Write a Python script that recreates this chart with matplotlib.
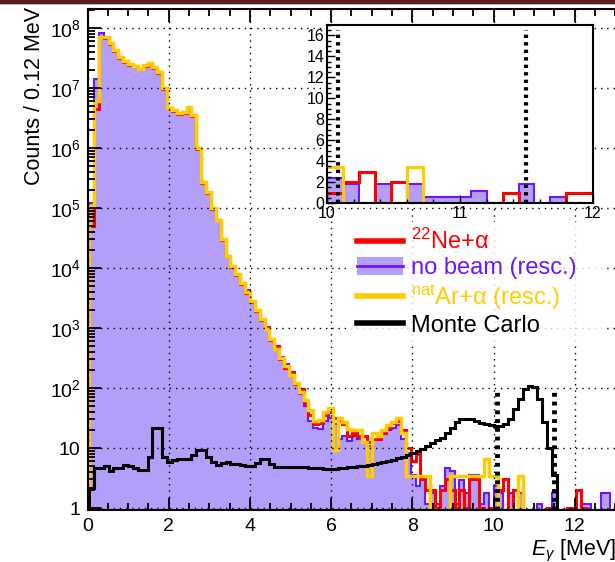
import numpy as np
import matplotlib
matplotlib.use('Agg')
import matplotlib.pyplot as plt
from matplotlib.lines import Line2D
from matplotlib.patches import Patch, Rectangle
from matplotlib.legend_handler import HandlerTuple
from matplotlib.ticker import (MultipleLocator, FixedLocator, LogLocator,
                               NullFormatter, FuncFormatter)

plt.rcParams['font.family'] = ['Liberation Sans', 'DejaVu Sans']
plt.rcParams['mathtext.fontset'] = 'custom'
plt.rcParams['mathtext.rm'] = 'Liberation Sans'
plt.rcParams['mathtext.it'] = 'Liberation Sans:italic'
plt.rcParams['mathtext.bf'] = 'Liberation Sans:bold'

# gamma spectra, 0.12 MeV bins starting at first_edge
bin_width = 0.12
first_edge = 0.04

ne_alpha = [
    5.0e4, 4.5e6, 7.0e7, 6.9e7, 5.5e7, 4.2e7, 3.2e7, 2.75e7, 2.45e7, 2.3e7,
    2.05e7, 2.35e7, 2.55e7, 2.15e7, 1.8e7, 9.8e6, 4.6e6, 4.2e6, 3.7e6, 3.9e6,
    4.7e6, 3.4e6, 9.8e5, 2.65e5, 1.8e5, 9.8e4, 6.2e4, 2.95e4, 1.6e4, 1.05e4,
    7700, 5500, 3900, 2750, 1950, 1350, 1050, 640, 500, 310,
    220, 185, 115, 95, 56, 35, 25, 26, 35, 40,
    32, 28, 25, 16, 18, 16, 16, 12.6, 14, 14,
    18, 22, 26, 28, 20, 10, 6, 8, 3, 2,
    2, 1, 2, 3, 2, 0, 2, 1, 3, 3,
    1, 0, 1, 1, 2, 3, 0, 2, 0, 0,
    0, 0, 0, 0, 1, 0, 0, 0, 1, 1,
    2, 1,
]

no_beam = [
    1.2e5, 1.4e7, 8.3e7, 7.2e7, 5.5e7, 4.2e7, 3.3e7, 2.75e7, 2.45e7, 2.3e7,
    2.05e7, 2.35e7, 2.55e7, 2.15e7, 1.8e7, 9.8e6, 4.6e6, 4.2e6, 3.7e6, 3.9e6,
    4.7e6, 3.4e6, 9.8e5, 2.65e5, 1.8e5, 9.8e4, 6.2e4, 2.95e4, 1.6e4, 1.05e4,
    7700, 5500, 4300, 2750, 1950, 1350, 1000, 640, 430, 330,
    250, 160, 115, 80, 50, 28, 22, 21, 28, 32,
    25, 14, 16, 13, 16, 14, 12.5, 11, 14, 16,
    19, 20, 22, 24, 14, 8.3, 3.54, 2.36, 2.95, 1.18,
    1.77, 1.18, 2.36, 4.72, 4.13, 1.18, 2.95, 1.77, 3.54, 3.54,
    1.18, 1.77, 0.59, 2.36, 1.77, 0, 1.77, 0, 1.77, 0.59,
    0.59, 0.59, 1.18, 0, 0, 1.77, 0, 0.59, 0, 0,
    0, 1.18, 1.18, 0, 0, 1.77, 1.77, 0.59,
]

ar_alpha = [
    1.1e5, 6.0e6, 7.0e7, 7.0e7, 5.6e7, 4.3e7, 3.3e7, 2.8e7, 2.5e7, 2.35e7,
    2.1e7, 2.4e7, 2.6e7, 2.2e7, 1.85e7, 1.0e7, 4.7e6, 4.3e6, 3.8e6, 4.0e6,
    4.8e6, 3.5e6, 1.0e6, 2.7e5, 1.85e5, 1.0e5, 6.3e4, 3.0e4, 1.6e4, 1.07e4,
    7900, 5600, 4000, 2800, 2000, 1400, 950, 660, 450, 320,
    230, 165, 120, 85, 63, 43, 28, 29, 40, 47,
    9.3, 32, 27, 21, 20, 20, 12.5, 3.4, 18, 16,
    20, 24, 27, 32, 18, 3.4, 3.4, 3.4, 3.4, 3.4,
    0, 0, 0, 0, 3.4, 3.4, 3.4, 3.4, 3.4, 3.4,
    3.4, 6.7, 3.4, 3.4, 0, 0, 0, 0, 3.4,
]

monte_carlo = [
    2.2, 4.6, 4.6, 5.0, 4.1, 4.6, 4.7, 5.2, 5.0, 4.6,
    4.3, 4.3, 7.0, 22, 22, 7.0, 5.8, 6.4, 6.6, 6.6,
    6.6, 7.6, 9.3, 9.3, 7.0, 5.8, 5.2, 5.6, 5.8, 5.5,
    5.5, 5.2, 5.0, 5.0, 5.6, 6.5, 6.5, 5.5, 4.9, 4.8,
    4.8, 4.8, 4.8, 4.8, 4.8, 4.7, 4.6, 4.6, 4.5, 4.5,
    4.5, 4.6, 4.7, 4.8, 4.9, 5.0, 5.1, 5.2, 5.4, 5.6,
    5.8, 6.1, 6.4, 6.8, 7.2, 7.7, 8.3, 9.0, 9.8, 10.8,
    12, 13.5, 15, 18, 22, 27, 30, 31, 30, 28,
    26, 25, 24, 23, 23, 25, 30, 45, 65, 95,
    107, 105, 65, 27, 10, 3.5,
]

# region of interest in E_gamma (MeV)
window = [10.08, 11.5]
window_top = 100
window_top_zoom = 16.5

energy_ticks = [0, 2, 4, 6, 8, 10, 12]

labels = [r'$^{22}$Ne+α', 'no beam (resc.)',
          r'$^{\mathrm{nat}}$Ar+α (resc.)', 'Monte Carlo']

RED = '#ff0000'
VIOLET = '#6a16ff'
LAVENDER = '#b39ef9'
GOLD = '#ffcc00'


def edges_for(vals):
    return first_edge + bin_width * np.arange(len(vals) + 1)


fig = plt.figure(figsize=(6.15, 5.62), dpi=100)
ax = fig.add_axes([0.1423, 0.0925, 0.9242, 0.8915])

ymin, ymax = 0.93, 2.07e8


def floor(vals):
    return np.maximum(np.asarray(vals, dtype=float), ymin)


ax.stairs(floor(no_beam), edges_for(no_beam), baseline=ymin, fill=True,
          color=LAVENDER, lw=0, zorder=1)
ax.stairs(floor(no_beam), edges_for(no_beam), baseline=ymin, color=VIOLET, lw=1.5, zorder=2)
ax.stairs(floor(ne_alpha), edges_for(ne_alpha), baseline=ymin, color=RED, lw=2.2, zorder=2)
ax.stairs(floor(ar_alpha), edges_for(ar_alpha), baseline=ymin, color=GOLD, lw=2.5, zorder=2)
ax.stairs(floor(monte_carlo), edges_for(monte_carlo), baseline=ymin, color='black',
          lw=2.2, zorder=3)
ax.vlines(window, ymin, window_top, colors='black', linestyles=(0, (0.8, 1.0)),
          lw=3.5, zorder=4)

ax.set_yscale('log')
ax.set_xlim(0, 14)
ax.set_ylim(ymin, ymax)


def decade_label(v, pos):
    e = int(round(np.log10(v)))
    if e == 0:
        return '1'
    if e == 1:
        return '10'
    return r'$\mathregular{10^{%d}}$' % e


ax.yaxis.set_major_locator(LogLocator(base=10, numticks=100))
ax.yaxis.set_minor_locator(LogLocator(base=10, subs=np.arange(2, 10) * 1.0, numticks=100))
ax.yaxis.set_minor_formatter(NullFormatter())
ax.yaxis.set_major_formatter(FuncFormatter(decade_label))
ax.xaxis.set_major_locator(FixedLocator(energy_ticks))
ax.xaxis.set_minor_locator(MultipleLocator(0.5))

ax.set_axisbelow(False)
ax.grid(True, which='major', color='black', linestyle=(0, (1, 3.5)), linewidth=1.0)
ax.tick_params(which='both', direction='in', top=True, right=False, width=1.3,
               labelsize=14)
ax.tick_params(which='major', length=9)
ax.tick_params(which='minor', length=5)
ax.tick_params(axis='y', pad=5)
ax.tick_params(axis='x', pad=6)
for sp in ax.spines.values():
    sp.set_linewidth(1.5)

ax.set_ylabel('Counts / 0.12 MeV', fontsize=15.5, loc='top')
ax.yaxis.set_label_coords(-0.075, 1.005)
ax.set_xlabel(r'$E_{\gamma}$ [MeV]', fontsize=15.5, loc='right')
ax.xaxis.set_label_coords(0.93, -0.056)

# zoom on the region of interest
axi = fig.add_axes([0.5317, 0.6388, 0.4325, 0.3167], zorder=3)
axi.set_facecolor('white')
axi.stairs(np.asarray(no_beam), edges_for(no_beam), baseline=0, fill=True,
           color=LAVENDER, lw=0)
axi.stairs(np.asarray(no_beam), edges_for(no_beam), baseline=0, color=VIOLET, lw=1.5)
axi.stairs(np.asarray(ne_alpha), edges_for(ne_alpha), baseline=0, color=RED, lw=2.2)
axi.stairs(np.asarray(ar_alpha), edges_for(ar_alpha), baseline=0, color=GOLD, lw=2.2)
axi.vlines(window, 0, window_top_zoom, colors='black', linestyles=(0, (0.8, 1.0)), lw=3)
axi.set_xlim(10, 12)
axi.set_ylim(0, 17)
axi.yaxis.set_major_locator(MultipleLocator(2))
axi.yaxis.set_minor_locator(MultipleLocator(0.5))
axi.xaxis.set_major_locator(MultipleLocator(1))
axi.xaxis.set_minor_locator(MultipleLocator(0.2))
axi.tick_params(which='both', direction='in', width=1.0, labelsize=11.5)
axi.tick_params(which='major', length=6)
axi.tick_params(which='minor', length=3)
axi.tick_params(axis='y', pad=2)
axi.tick_params(axis='x', pad=2)
for sp in axi.spines.values():
    sp.set_linewidth(1.5)

handles = [
    Line2D([], [], color=RED, lw=4),
    (Patch(facecolor=LAVENDER, edgecolor='none'), Line2D([], [], color=VIOLET, lw=2)),
    Line2D([], [], color=GOLD, lw=4),
    Line2D([], [], color='black', lw=4),
]
leg = fig.legend(handles, labels, loc='upper left',
                 bbox_to_anchor=(350 / 615, 1 - 222 / 562, 257 / 615, 0),
                 mode='expand', fontsize=17, handlelength=1.95, handleheight=0.75,
                 handletextpad=0.35, labelspacing=0.13, borderpad=0.3,
                 borderaxespad=0, frameon=True, fancybox=False,
                 labelcolor=[RED, VIOLET, GOLD, 'black'],
                 handler_map={tuple: HandlerTuple(ndivide=1, pad=0)})
leg.get_frame().set_facecolor('white')
leg.get_frame().set_edgecolor('white')
leg.get_frame().set_linewidth(0)
leg.set_zorder(6)

# slide header strip along the top edge
fig.add_artist(Rectangle((0, 1 - 3.5 / 562), 1, 3.5 / 562, transform=fig.transFigure,
                         facecolor='#5b1d20', edgecolor='none', zorder=10))
fig.add_artist(Rectangle((0, 1 - 5 / 562), 1, 1.5 / 562, transform=fig.transFigure,
                         facecolor='#b8b8b8', edgecolor='none', zorder=10))

fig.savefig('out.png', dpi=100)
